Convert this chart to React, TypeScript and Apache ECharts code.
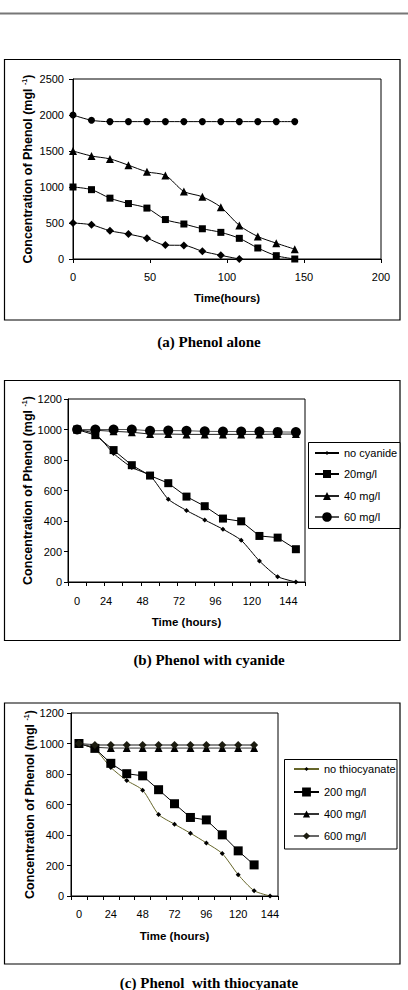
import React, { useEffect, useRef } from "react";
import * as echarts from "echarts";

// ---------- Data ----------
// (a) Phenol alone — time in hours
const hoursA = [0, 12, 24, 36, 48, 60, 72, 84, 96, 108, 120, 132, 144];
const phenol500 = [500, 475, 392, 346, 288, 193, 189, 108, 51, 0];
const phenol1000 = [1000, 963, 845, 770, 707, 548, 486, 420, 370, 287, 153, 46, 0];
const phenol1500 = [1500, 1431, 1390, 1303, 1211, 1161, 939, 864, 720, 467, 313, 220, 136];
const phenol2000 = [2000, 1927, 1908, 1908, 1908, 1908, 1908, 1908, 1908, 1908, 1908, 1908, 1908];

// (b) Phenol with cyanide — categories
const hoursB = ["0", "12", "24", "36", "48", "60", "72", "84", "96", "108", "120", "132", "144"];
const noCyanide = [1000, 972, 843, 751, 698, 543, 469, 407, 346, 274, 138, 35, 0];
const cyanide20 = [1000, 963, 865, 766, 698, 648, 560, 497, 416, 398, 302, 291, 215];
const cyanide40 = [1000, 995, 988, 982, 970, 970, 968, 968, 968, 968, 968, 970, 970];
const cyanide60 = [1000, 1000, 1000, 1000, 992, 993, 992, 988, 987, 987, 987, 984, 983];

// (c) Phenol with thiocyanate — categories
const hoursC = ["0", "12", "24", "36", "48", "60", "72", "84", "96", "108", "120", "132", "144"];
const noThio = [1000, 962, 843, 758, 694, 535, 471, 412, 348, 278, 140, 35, 0];
const thio200 = [1000, 968, 870, 802, 788, 697, 605, 515, 499, 401, 296, 204];
const thio400 = [1000, 975, 970, 970, 970, 970, 970, 970, 970, 970, 970, 970];
const thio600 = [1000, 990, 990, 990, 990, 990, 990, 990, 990, 990, 990, 990];

const legendB = ["no cyanide", "20mg/l", "40 mg/l", "60 mg/l"];
const legendC = ["no thiocyanate", "200 mg/l", "400 mg/l", "600 mg/l"];
const yTitle = "{t|Concentration of Phenol (mgl }{s|-1}{t|)}";
const captions = ["(a) Phenol alone", "(b) Phenol with cyanide", "(c) Phenol  with thiocyanate"];

const SANS = "'Liberation Sans', Arial, sans-serif";
const SERIF = "'Liberation Serif', 'Times New Roman', serif";

export default function App() {
  const ref = useRef<HTMLDivElement>(null);

  useEffect(() => {
    if (!ref.current) return;
    const chart = echarts.init(ref.current, undefined, { renderer: "svg" });

    const axisLine = { show: true, lineStyle: { color: "#000", width: 1 } };
    const axisTick = { show: true, inside: false, length: 4, lineStyle: { color: "#000", width: 1 } };
    const labelBase = { color: "#000", fontSize: 11, fontFamily: SANS };
    const plain = (v: number) => String(v);
    const nameStyle = {
      rich: {
        t: { fontSize: 12.5, fontWeight: "bold", fontFamily: SANS, color: "#000" },
        s: { fontSize: 7, fontWeight: "bold", fontFamily: SANS, color: "#000", verticalAlign: "top" },
      },
    };
    const xNameStyle = { fontSize: 11.5, fontWeight: "bold", fontFamily: SANS, color: "#000" };

    const line = (
      name: string,
      xi: number,
      data: any[],
      symbol: string,
      size: number,
      lineColor = "#000",
      smooth: number | boolean = false,
      itemColor = "#000",
      width = 1
    ) => ({
      name,
      type: "line",
      xAxisIndex: xi,
      yAxisIndex: xi,
      data,
      symbol,
      symbolSize: size,
      showSymbol: true,
      smooth,
      lineStyle: { color: lineColor, width },
      itemStyle: { color: itemColor, borderWidth: 0 },
      emphasis: { disabled: true },
    });

    const pairs = (v: number[]) => v.map((y, i) => [hoursA[i], y]);

    // one legend component per entry so each legend marker can have its own size
    const legendItem = (name: string, left: number, centerY: number, iconH: number, iconW: number) => ({
      data: [name],
      orient: "vertical",
      left,
      top: centerY - 6,
      padding: 0,
      itemWidth: iconW,
      itemHeight: iconH,
      textStyle: { fontSize: 11, lineHeight: 12, fontFamily: SANS, color: "#000" },
      selectedMode: false,
    });

    const yName = (gap: number) => ({
      name: yTitle,
      nameLocation: "middle",
      nameRotate: 90,
      nameGap: gap,
      nameMoveOverlap: false,
      nameTextStyle: nameStyle,
    });

    const option: any = {
      animation: false,
      textStyle: { fontFamily: SANS },
      grid: [
        { left: 73, top: 79, width: 308, height: 180, show: true, borderColor: "#000", borderWidth: 1, backgroundColor: "transparent" },
        { left: 68, top: 399, width: 237, height: 183, show: true, borderColor: "#000", borderWidth: 1, backgroundColor: "transparent" },
        { left: 71, top: 713, width: 207, height: 183, show: true, borderColor: "#000", borderWidth: 1, backgroundColor: "transparent" },
      ],
      xAxis: [
        {
          gridIndex: 0, type: "value", min: 0, max: 200, interval: 50,
          axisLine, axisTick, splitLine: { show: false },
          axisLabel: { ...labelBase, margin: 12, formatter: plain },
          name: "Time(hours)", nameLocation: "middle", nameGap: 33, nameMoveOverlap: false, nameTextStyle: xNameStyle,
        },
        {
          gridIndex: 1, type: "category", data: hoursB, boundaryGap: true,
          axisLine, axisTick: { ...axisTick, interval: 0 }, splitLine: { show: false },
          axisLabel: {
            ...labelBase, margin: 13, interval: 1,
            formatter: (v: string, i: number) => (i === 0 ? "{z|" + v + "}" : "{s|" + v + "}"),
            rich: {
              z: { fontSize: 11, fontFamily: SANS, color: "#000" },
              s: { fontSize: 11, fontFamily: SANS, color: "#000", padding: [0, 15, 0, 0] },
            },
          },
          name: "Time (hours)", nameLocation: "middle", nameGap: 34, nameMoveOverlap: false, nameTextStyle: xNameStyle,
        },
        {
          gridIndex: 2, type: "category", data: hoursC, boundaryGap: true,
          axisLine, axisTick: { ...axisTick, interval: 0 }, splitLine: { show: false },
          axisLabel: { ...labelBase, margin: 12, interval: 1 },
          name: "Time (hours)", nameLocation: "middle", nameGap: 34, nameMoveOverlap: false, nameTextStyle: xNameStyle,
        },
      ],
      yAxis: [
        {
          gridIndex: 0, type: "value", min: 0, max: 2500, interval: 500,
          axisLine, axisTick, splitLine: { show: false },
          axisLabel: { ...labelBase, margin: 9, formatter: plain },
          ...yName(39),
        },
        {
          gridIndex: 1, type: "value", min: 0, max: 1200, interval: 200,
          axisLine, axisTick, splitLine: { show: false },
          axisLabel: { ...labelBase, margin: 6, formatter: plain },
          ...yName(34),
        },
        {
          gridIndex: 2, type: "value", min: 0, max: 1200, interval: 200,
          axisLine, axisTick, splitLine: { show: false },
          axisLabel: { ...labelBase, margin: 7, formatter: plain },
          ...yName(35),
        },
      ],
      legend: [
        legendItem(legendB[0], 314, 453, 5, 24),
        legendItem(legendB[1], 314, 474, 10, 24),
        legendItem(legendB[2], 314, 496, 10, 24),
        legendItem(legendB[3], 314, 517, 12, 24),
        legendItem(legendC[0], 293, 769, 5, 25),
        legendItem(legendC[1], 293, 792, 11, 25),
        legendItem(legendC[2], 293, 814, 9, 25),
        legendItem(legendC[3], 293, 836, 9, 25),
      ],
      series: [
        line("a500", 0, pairs(phenol500), "diamond", 8, "#000", 0.3),
        line("a1000", 0, pairs(phenol1000), "rect", 7, "#000", 0.3),
        line("a1500", 0, pairs(phenol1500), "triangle", 8, "#000", 0.3),
        line("a2000", 0, pairs(phenol2000), "circle", 7, "#000", 0.3),

        line(legendB[0], 1, noCyanide, "diamond", 5, "#000", 0.2),
        line(legendB[1], 1, cyanide20, "rect", 8, "#000"),
        line(legendB[2], 1, cyanide40, "triangle", 8, "#222"),
        line(legendB[3], 1, cyanide60, "circle", 10, "#555"),

        line(legendC[0], 2, noThio, "diamond", 5, "#66662a", 0.25),
        line(legendC[1], 2, thio200, "rect", 9, "#000"),
        line(legendC[2], 2, thio400, "triangle", 8, "#333"),
        line(legendC[3], 2, thio600, "diamond", 8, "#666", false, "#1c1c10", 1.5),
      ],
      graphic: [
        { type: "line", shape: { x1: 0, y1: 13.5, x2: 408, y2: 13.5 }, style: { stroke: "#777", lineWidth: 2 }, z: -10 },
        { type: "rect", shape: { x: 4.5, y: 59.5, width: 395.5, height: 260.5 }, style: { fill: "none", stroke: "#000", lineWidth: 1.2 }, z: -10 },
        { type: "rect", shape: { x: 4.5, y: 380.5, width: 395.5, height: 260 }, style: { fill: "none", stroke: "#000", lineWidth: 1.2 }, z: -10 },
        { type: "rect", shape: { x: 4.5, y: 703, width: 395.5, height: 261 }, style: { fill: "none", stroke: "#000", lineWidth: 1.2 }, z: -10 },
        { type: "rect", shape: { x: 308.5, y: 442.5, width: 91.5, height: 86 }, style: { fill: "#fff", stroke: "#000", lineWidth: 1 }, z: 1 },
        { type: "rect", shape: { x: 284.5, y: 759.5, width: 112.5, height: 89.5 }, style: { fill: "#fff", stroke: "#000", lineWidth: 1 }, z: 1 },
        { type: "text", x: 209, y: 342, style: { text: captions[0], font: "bold 15px " + SERIF, fill: "#000", align: "center", verticalAlign: "middle" } },
        { type: "text", x: 209, y: 660, style: { text: captions[1], font: "bold 15px " + SERIF, fill: "#000", align: "center", verticalAlign: "middle" } },
        { type: "text", x: 209, y: 982.5, style: { text: captions[2], font: "bold 15px " + SERIF, fill: "#000", align: "center", verticalAlign: "middle" } },
      ],
    };

    chart.setOption(option);
    return () => chart.dispose();
  }, []);

  return (
    <div
      ref={ref}
      style={{ position: "absolute", left: 0, top: 0, width: 408, height: 990, background: "#fff" }}
    />
  );
}
